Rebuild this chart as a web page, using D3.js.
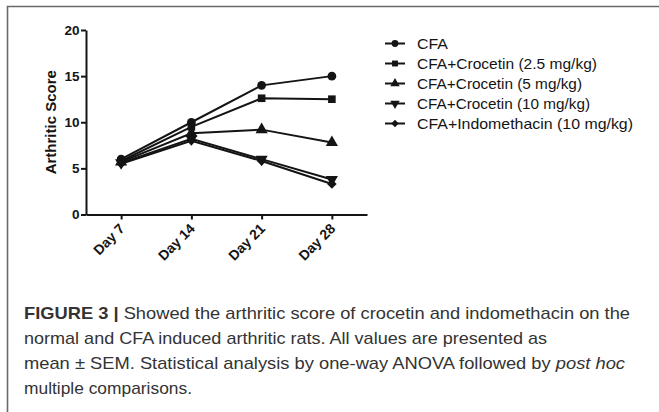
<!DOCTYPE html>
<html>
<head>
<meta charset="utf-8">
<script src="https://cdn.jsdelivr.net/npm/d3@7"></script>
<style>
  html, body { margin: 0; padding: 0; background: #fff; }
  svg { display: block; }
</style>
</head>
<body>
<svg id="fig" width="659" height="412"></svg>
<script>
// Time points on the x axis
const days = ["Day 7", "Day 14", "Day 21", "Day 28"];

// Mean arthritic score per group at each time point
const cfa        = [6.0, 10.0, 14.0, 15.0];
const croc25     = [5.8, 9.5, 12.6, 12.5];
const croc5      = [5.7, 8.8, 9.2, 7.8];
const croc10     = [5.6, 8.2, 6.0, 3.8];
const indometh   = [5.5, 8.0, 5.8, 3.3];

const groupNames = [
  "CFA",
  "CFA+Crocetin (2.5 mg/kg)",
  "CFA+Crocetin (5 mg/kg)",
  "CFA+Crocetin (10 mg/kg)",
  "CFA+Indomethacin (10 mg/kg)"
];
const yTicks = [0, 5, 10, 15, 20];

const captionLines = [
  [{t: "FIGURE 3 | ", w: "bold"}, {t: "Showed the arthritic score of crocetin and indomethacin on the"}],
  [{t: "normal and CFA induced arthritic rats. All values are presented as"}],
  [{t: "mean \u00B1 SEM. Statistical analysis by one-way ANOVA followed by "}, {t: "post hoc", i: true}],
  [{t: "multiple comparisons."}]
];

const groups = [cfa, croc25, croc5, croc10, indometh];
// marker per group: circle, square, up-triangle, down-triangle, diamond
const shapes = ["circle", "square", "up", "down", "diamond"];

const svg = d3.select("#fig");
const ink = "#141414";

// frame of the figure panel
svg.append("path")
  .attr("d", "M7.5,412 L7.5,6.5 L659,6.5")
  .attr("fill", "none").attr("stroke", "#6a6a6a").attr("stroke-width", 1.6);

const x = d3.scalePoint().domain(days).range([86, 367]).padding(0.5);
const y = d3.scaleLinear().domain([0, 20]).range([214.5, 30]);

const font = "'Liberation Sans', Arial, sans-serif";

// y axis
const yAxis = svg.append("g").attr("transform", "translate(86,0)")
  .call(d3.axisLeft(y).tickValues(yTicks).tickSize(5).tickSizeOuter(0).tickPadding(1.5));
yAxis.select(".domain").attr("stroke", ink).attr("stroke-width", 2);
yAxis.selectAll(".tick line").attr("stroke", ink).attr("stroke-width", 2);
yAxis.selectAll(".tick text").attr("fill", ink)
  .style("font-family", font).style("font-weight", "bold").style("font-size", "13.5px");

// x axis
const xAxis = svg.append("g").attr("transform", "translate(0,214.5)")
  .call(d3.axisBottom(x).tickSize(5).tickSizeOuter(0));
xAxis.select(".domain").attr("stroke", ink).attr("stroke-width", 2);
xAxis.selectAll(".tick line").attr("stroke", ink).attr("stroke-width", 2);
xAxis.selectAll(".tick text").attr("fill", ink)
  .style("font-family", font).style("font-weight", "bold").style("font-size", "14px")
  .attr("text-anchor", "end")
  .attr("dy", null)
  .attr("y", 0)
  .attr("transform", "translate(4,15) rotate(-45)");

// y axis title
svg.append("text")
  .attr("transform", `translate(56,${(y(0) + y(20)) / 2}) rotate(-90)`)
  .attr("text-anchor", "middle")
  .attr("fill", ink)
  .style("font-family", font).style("font-weight", "bold").style("font-size", "15px")
  .text("Arthritic Score");

function symPath(shape, size) {
  const type = shape === "circle" ? d3.symbolCircle
    : (shape === "square" || shape === "diamond") ? d3.symbolSquare
    : d3.symbolTriangle;
  return d3.symbol().type(type).size(size)();
}
function symRotate(shape) {
  return shape === "down" ? " rotate(180)" : shape === "diamond" ? " rotate(45)" : "";
}
const sizes = [60, 58, 64, 64, 46];

const line = d3.line().x((d, i) => x(days[i])).y(d => y(d));

groups.forEach((vals, k) => {
  const g = svg.append("g");
  g.append("path").datum(vals)
    .attr("d", line)
    .attr("fill", "none").attr("stroke", ink).attr("stroke-width", 2);
  g.selectAll("path.m").data(vals).join("path")
    .attr("class", "m")
    .attr("d", symPath(shapes[k], sizes[k]))
    .attr("transform", (d, i) => `translate(${x(days[i])},${y(d)})` + symRotate(shapes[k]))
    .attr("fill", ink);
});

// legend
const legendWidths = [31, 180, 165, 173, 216];
const legend = svg.append("g");
groupNames.forEach((name, k) => {
  const ly = 43.5 + k * 20;
  legend.append("line")
    .attr("x1", 385).attr("x2", 405).attr("y1", ly).attr("y2", ly)
    .attr("stroke", ink).attr("stroke-width", 2);
  legend.append("path")
    .attr("d", symPath(shapes[k], sizes[k] * 0.6))
    .attr("transform", `translate(395,${ly})` + symRotate(shapes[k]))
    .attr("fill", ink);
  legend.append("text")
    .attr("x", 417).attr("y", ly).attr("dy", "0.36em")
    .attr("fill", ink)
    .style("font-family", font).style("font-size", "15px")
    .attr("textLength", legendWidths[k])
    .attr("lengthAdjust", "spacingAndGlyphs")
    .text(name);
});

// caption
const capWidths = [606, 523, 601, 168];
const cap = svg.append("g");
captionLines.forEach((parts, k) => {
  const t = cap.append("text")
    .attr("x", 24).attr("y", 319 + k * 25)
    .attr("fill", "#333")
    .style("font-family", font).style("font-size", "17px")
    .attr("textLength", capWidths[k])
    .attr("lengthAdjust", "spacingAndGlyphs");
  parts.forEach(p => {
    t.append("tspan")
      .style("font-weight", p.w || "normal")
      .style("font-style", p.i ? "italic" : "normal")
      .text(p.t);
  });
});
</script>
</body>
</html>
